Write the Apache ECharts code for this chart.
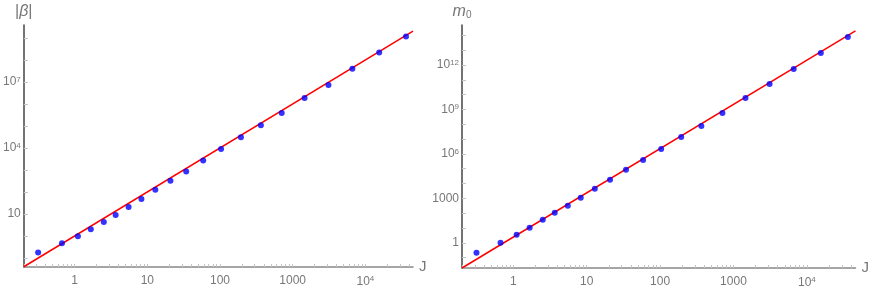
<!DOCTYPE html>
<html>
<head>
<meta charset="utf-8">
<script src="https://cdn.jsdelivr.net/npm/echarts@6/dist/echarts.min.js"></script>
<style>
html,body{margin:0;padding:0;background:#fff;}
#chart{width:872px;height:290px;}
</style>
</head>
<body>
<div id="chart"></div>
<script>
// J values (shared by both panels)
const jValues = [0.315, 0.67, 1.11, 1.67, 2.52, 3.67, 5.53, 8.3, 12.9, 20.8, 34.3, 58.7, 103.5, 194, 365, 707, 1458, 3105, 6620, 15500, 36200];
// |beta| values (left panel)
const betaValues = [0.18, 0.47, 0.98, 2.05, 4.3, 9.0, 21, 48.7, 126, 327, 845, 2700, 9100, 30600, 1.09e5, 3.87e5, 1.88e6, 7.4e6, 4.0e7, 2.18e8, 1.18e9];
// m0 values (right panel)
const m0Values = [0.21, 1.0, 3.5, 10.3, 35.6, 105, 313, 1080, 4380, 1.77e4, 8.4e4, 3.95e5, 2.18e6, 1.41e7, 7.75e7, 5.8e8, 6.0e9, 5.3e10, 5.4e11, 6.5e12, 7.8e13];
// red fitted lines (endpoints)
const betaLineJ = [0.2, 45200];
const betaLineY = [0.04, 2.04e9];
const m0LineJ = [0.2, 46000];
const m0LineY = [0.02, 2.0e14];
// axis ranges
const xRange = [0.2, 45200];
const xRange2 = [0.2, 46000];
const betaRange = [0.039, 3.9e9];
const m0Range = [0.02, 5e14];
// tick labels
const xLabels = [1, 10, 100, 1000, 1e4];
const betaLabels = [10, 1e4, 1e7];
const m0Labels = [1, 1000, 1e6, 1e9, 1e12];
// tick marks
const xTicks = [0.2, 0.3, 0.4, 0.5, 0.6, 0.7, 0.8, 0.9, 1, 2, 3, 4, 5, 6, 7, 8, 9, 10, 20, 30, 40, 50, 60, 70, 80, 90, 100,
  200, 300, 400, 500, 600, 700, 800, 900, 1000, 2000, 3000, 4000, 5000, 6000, 7000, 8000, 9000, 1e4, 2e4, 3e4, 4e4];
const betaTicks = [0.1, 1, 10, 100, 1e3, 1e4, 1e5, 1e6, 1e7, 1e8, 1e9];
const m0Ticks = [0.1, 1, 10, 100, 1e3, 1e4, 1e5, 1e6, 1e7, 1e8, 1e9, 1e10, 1e11, 1e12, 1e13, 1e14];

const FONT = 'Liberation Sans, Arial, sans-serif';
const GREY = '#777';

function fmt(v) {
  const e = Math.round(Math.log10(v));
  if (e >= 0 && e <= 3) return '{b|' + String(Math.round(v)) + '}';
  return '{b|10}{s|' + e + '}';
}
const rich = {
  b: {fontSize: 12, color: GREY, fontFamily: FONT},
  s: {fontSize: 8, color: GREY, fontFamily: FONT, verticalAlign: 'top', padding: [0, 0, 5, 0]}
};

function xAxis(gi, range) {
  return {
    type: 'log', logBase: 10, gridIndex: gi, min: range[0], max: range[1],
    name: 'J', nameLocation: 'end', nameGap: 6,
    nameTextStyle: {fontSize: 15, color: GREY, fontFamily: FONT, verticalAlign: 'middle'},
    axisLine: {lineStyle: {color: '#888', width: 1.5}},
    axisTick: {show: true, inside: true, length: 3, customValues: xTicks, lineStyle: {color: '#c4c4c4'}},
    splitLine: {show: false},
    axisLabel: {formatter: fmt, rich: rich, margin: 8, customValues: xLabels}
  };
}
function yAxis(gi, range, labels, ticks, nameStr, nameRich) {
  return {
    type: 'log', logBase: 10, gridIndex: gi, min: range[0], max: range[1],
    name: nameStr, nameLocation: 'end', nameGap: 5,
    nameTextStyle: {fontSize: 15, color: GREY, fontFamily: FONT, align: 'center', rich: nameRich},
    axisLine: {lineStyle: {color: '#444', width: 1.5}},
    axisTick: {show: true, inside: true, length: 4, customValues: ticks, lineStyle: {color: '#c4c4c4'}},
    splitLine: {show: false},
    axisLabel: {formatter: fmt, rich: rich, margin: 3, customValues: labels}
  };
}

function pairs(xs, ys) { return xs.map((x, i) => [x, ys[i]]); }

const option = {
  animation: false,
  backgroundColor: '#fff',
  grid: [
    {left: 22, right: 459, top: 25, bottom: 23},
    {left: 462, right: 16, top: 25, bottom: 22}
  ],
  xAxis: [xAxis(0, xRange), xAxis(1, xRange2)],
  yAxis: [
    yAxis(0, betaRange, betaLabels, betaTicks, '{n||}{g|β}{n||}', {
      n: {fontSize: 16, color: GREY, fontFamily: FONT},
      g: {fontSize: 16, fontStyle: 'italic', color: GREY, fontFamily: FONT}
    }),
    yAxis(1, m0Range, m0Labels, m0Ticks, '{i|m}{o|0}', {
      i: {fontSize: 16, fontStyle: 'italic', color: GREY, fontFamily: FONT},
      o: {fontSize: 10, color: GREY, fontFamily: FONT, verticalAlign: 'bottom', padding: [6, 0, 0, 0]}
    })
  ],
  series: [
    {type: 'line', xAxisIndex: 0, yAxisIndex: 0, data: pairs(betaLineJ, betaLineY), symbol: 'none',
     lineStyle: {color: '#ff0000', width: 1.5}, z: 2},
    {type: 'scatter', xAxisIndex: 0, yAxisIndex: 0, data: pairs(jValues, betaValues), symbolSize: 6,
     itemStyle: {color: '#0000ff'}, z: 3},
    {type: 'line', xAxisIndex: 1, yAxisIndex: 1, data: pairs(m0LineJ, m0LineY), symbol: 'none',
     lineStyle: {color: '#ff0000', width: 1.5}, z: 2},
    {type: 'scatter', xAxisIndex: 1, yAxisIndex: 1, data: pairs(jValues, m0Values), symbolSize: 6,
     itemStyle: {color: '#0000ff'}, z: 3}
  ]
};
const chart = echarts.init(document.getElementById('chart'), null, {renderer: 'canvas'});
chart.setOption(option);
</script>
</body>
</html>
